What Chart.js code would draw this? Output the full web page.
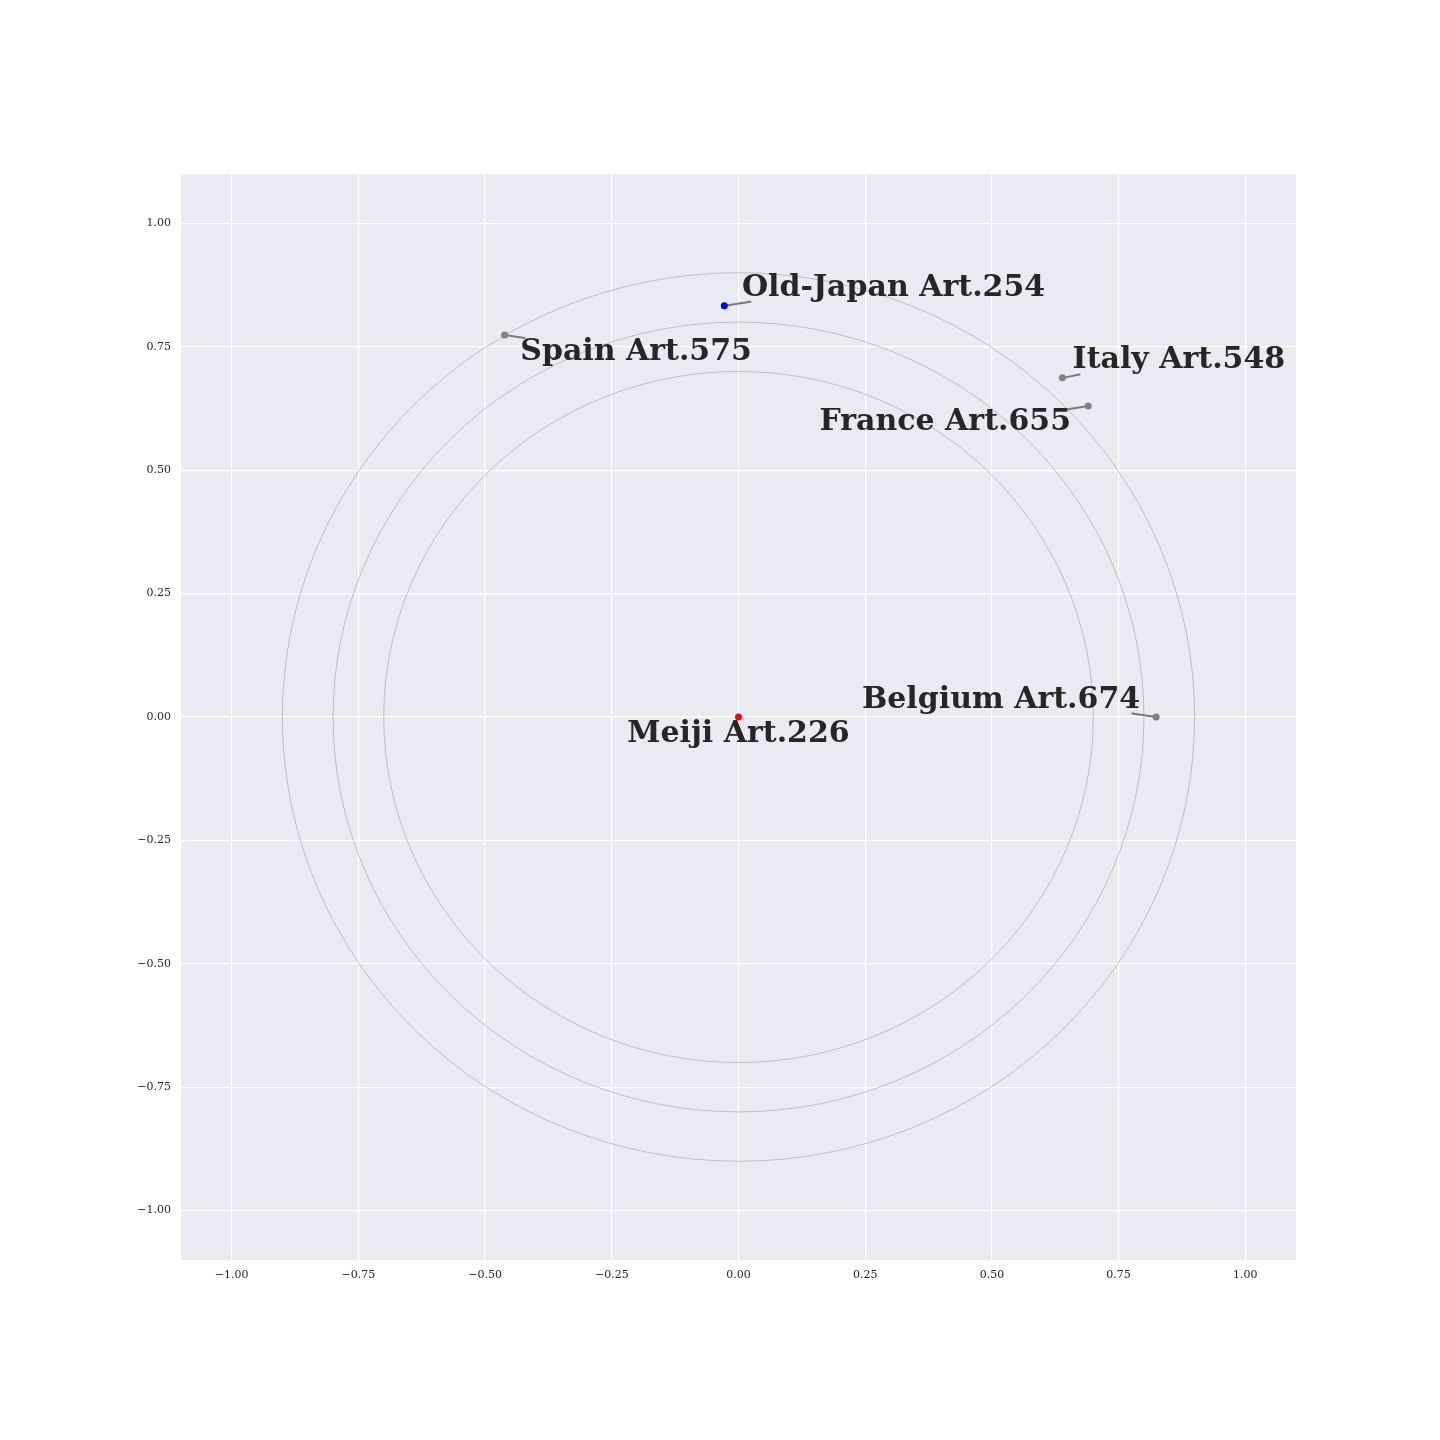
<!DOCTYPE html>
<html>
<head>
<meta charset="utf-8">
<script src="https://cdn.jsdelivr.net/npm/chart.js@4/dist/chart.umd.min.js"></script>
<style>
html,body{margin:0;padding:0;background:#fff;}
#wrap{width:1440px;height:1440px;}
</style>
</head>
<body>
<div id="wrap"><canvas id="c" width="1440" height="1440"></canvas></div>
<script>
// ---- data ----
const names = ["Meiji Art.226", "Old-Japan Art.254", "Spain Art.575", "Italy Art.548", "France Art.655", "Belgium Art.674"];
const xs = [0.0, -0.028, -0.4615, 0.639, 0.690, 0.824];
const ys = [0.0, 0.833, 0.774, 0.687, 0.630, 0.0];
const pointColors = ["#ff0000", "#0000ff", "#808080", "#808080", "#808080", "#808080"];
const radii = [0.7, 0.8, 0.9];
const tickValues = [-1.0, -0.75, -0.5, -0.25, 0.0, 0.25, 0.5, 0.75, 1.0];
// label anchor (centre, baseline) in data coordinates
const labelX = [0.0, 0.306, -0.202, 0.869, 0.408, 0.518];
const labelY = [-0.050, 0.853, 0.724, 0.708, 0.581, 0.019];
// leader line ends (null = none)
const leadX = [null, 0.0237, -0.422, 0.673, 0.647, 0.777];
const leadY = [null, 0.841, 0.768, 0.694, 0.623, 0.007];

const fmt = v => { const s = Math.abs(v).toFixed(2); return (v < 0 ? "\u2212" : "") + s; };

const bgPlugin = {
  id: 'bg',
  beforeDraw(chart) {
    const {ctx, chartArea: a} = chart;
    ctx.save();
    ctx.fillStyle = '#EAEAF2';
    ctx.fillRect(a.left, a.top, a.right - a.left, a.bottom - a.top);
    ctx.restore();
  },
  beforeDatasetsDraw(chart) {
    const {ctx, scales: {x, y}} = chart;
    const cx = x.getPixelForValue(0), cy = y.getPixelForValue(0);
    ctx.save();
    ctx.strokeStyle = '#a0a0a0';
    ctx.lineWidth = 0.6;
    radii.forEach(r => {
      const rx = x.getPixelForValue(r) - cx;
      const ry = cy - y.getPixelForValue(r);
      ctx.beginPath();
      ctx.ellipse(cx, cy, rx, ry, 0, 0, Math.PI * 2);
      ctx.stroke();
    });
    ctx.strokeStyle = '#7a7a7a';
    ctx.lineWidth = 2;
    ctx.lineCap = 'round';
    for (let i = 0; i < names.length; i++) {
      if (leadX[i] === null) continue;
      ctx.beginPath();
      ctx.moveTo(x.getPixelForValue(xs[i]), y.getPixelForValue(ys[i]));
      ctx.lineTo(x.getPixelForValue(leadX[i]), y.getPixelForValue(leadY[i]));
      ctx.stroke();
    }
    ctx.restore();
  },
  afterDatasetsDraw(chart) {
    const {ctx, scales: {x, y}} = chart;
    ctx.save();
    ctx.fillStyle = '#262626';
    ctx.font = 'bold 30px "DejaVu Serif"';
    ctx.textAlign = 'center';
    ctx.textBaseline = 'alphabetic';
    for (let i = 0; i < names.length; i++) {
      ctx.fillText(names[i], x.getPixelForValue(labelX[i]), y.getPixelForValue(labelY[i]));
    }
    ctx.restore();
  }
};

const tickFont = {family: 'DejaVu Serif', size: 11};

new Chart(document.getElementById('c'), {
  type: 'scatter',
  data: {
    datasets: [{
      data: xs.map((v, i) => ({x: v, y: ys[i]})),
      pointBackgroundColor: pointColors,
      pointBorderColor: pointColors,
      pointRadius: 3.5,
      pointBorderWidth: 0
    }]
  },
  options: {
    responsive: false,
    animation: false,
    devicePixelRatio: 1,
    layout: {padding: {left: 0, right: 144, top: 174, bottom: 0}},
    plugins: {legend: {display: false}, tooltip: {enabled: false}},
    scales: {
      x: {
        type: 'linear', min: -1.1, max: 1.1,
        afterBuildTicks: s => { s.ticks = tickValues.map(v => ({value: v})); },
        afterFit: s => { s.height = 180; },
        grid: {color: '#ffffff', lineWidth: 1.2, drawTicks: false},
        border: {display: false},
        ticks: {font: tickFont, color: '#262626', padding: 9, maxRotation: 0, callback: v => fmt(v)}
      },
      y: {
        type: 'linear', min: -1.1, max: 1.1,
        afterBuildTicks: s => { s.ticks = tickValues.map(v => ({value: v})); },
        afterFit: s => { s.width = 181; },
        grid: {color: '#ffffff', lineWidth: 1.2, drawTicks: false},
        border: {display: false},
        ticks: {font: tickFont, color: '#262626', padding: 10, callback: v => fmt(v)}
      }
    }
  },
  plugins: [bgPlugin]
});
</script>
</body>
</html>
